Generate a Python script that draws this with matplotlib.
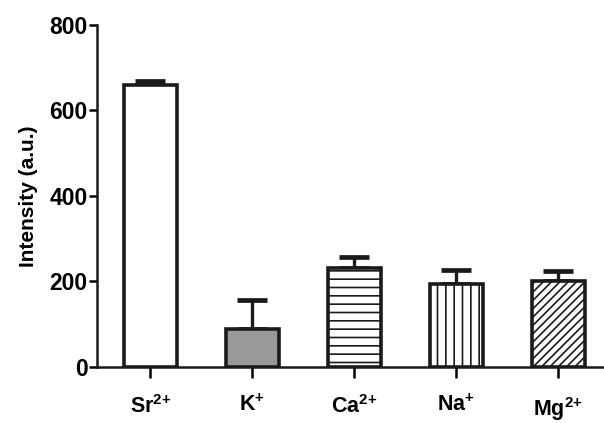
import matplotlib
matplotlib.use("Agg")
import matplotlib.pyplot as plt

plt.rcParams['font.family'] = 'Liberation Sans'
plt.rcParams['font.weight'] = 'bold'
plt.rcParams['mathtext.fontset'] = 'custom'
plt.rcParams['mathtext.rm'] = 'Liberation Sans:bold'
plt.rcParams['mathtext.bf'] = 'Liberation Sans:bold'
plt.rcParams['mathtext.default'] = 'bf'
plt.rcParams['hatch.linewidth'] = 1.2

# ions and measured intensity (a.u.) with upper error
ions = [r'Sr$^{2{+}}$', r'K$^{+}$', r'Ca$^{2{+}}$', r'Na$^{+}$', r'Mg$^{2{+}}$']
intensity = [660, 88, 232, 194, 201]
err_up = [9, 69, 26, 33, 24]
fills = ['white', '#999999', 'white', 'white', 'white']
hatches = [None, None, '--', '||', '////']

fig = plt.figure(figsize=(6.04, 4.23), dpi=100)
ax = fig.add_axes([0.161, 0.1324, 0.839, 0.8086])

x = list(range(len(ions)))
ax.errorbar(x, intensity, yerr=[[0] * len(x), err_up], fmt='none',
            ecolor='#1a1a1a', elinewidth=2.4, capsize=11, capthick=3.4, zorder=1)
bars = ax.bar(x, intensity, width=0.52, color=fills, edgecolor='#1a1a1a',
              linewidth=2.6, zorder=2)
for b, h in zip(bars, hatches):
    if h:
        b.set_hatch(h)

ax.set_xlim(-0.52, 4.45)
ax.set_ylim(0, 800)
ax.set_yticks([0, 200, 400, 600, 800])
ax.set_xticks(x)
ax.set_xticklabels(ions, fontsize=15.5)
ax.tick_params(axis='y', labelsize=16.5, width=1.8, length=6, pad=1)
ax.tick_params(axis='x', width=1.8, length=8, pad=12)
for lab in ax.get_yticklabels():
    lab.set_fontweight('bold')
ax.set_ylabel('Intensity (a.u.)', fontsize=15, fontweight='bold', labelpad=8)

for s in ['top', 'right']:
    ax.spines[s].set_visible(False)
for s in ['left', 'bottom']:
    ax.spines[s].set_linewidth(1.8)
    ax.spines[s].set_color('#1a1a1a')

fig.savefig('out.png', dpi=100)
